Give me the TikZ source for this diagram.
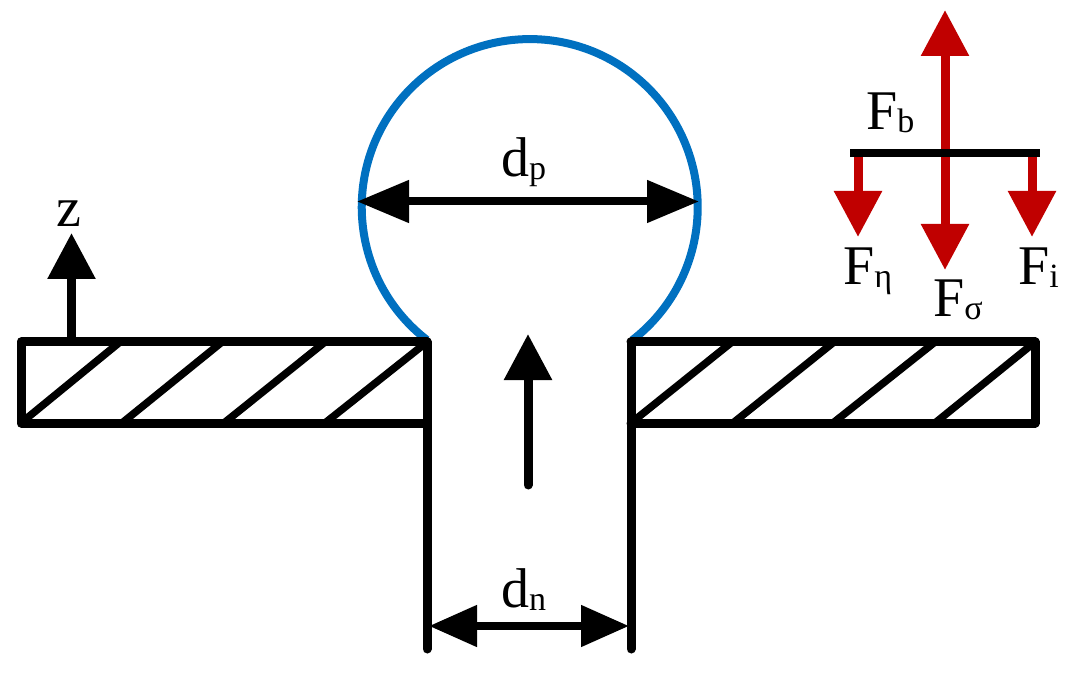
\documentclass[tikz,border=0pt]{standalone}
\usepackage{fontspec}
\setmainfont{Liberation Serif}
\usetikzlibrary{arrows.meta}
\definecolor{dropblue}{HTML}{0070C0}
\definecolor{forcered}{HTML}{C00000}
\newcommand{\sublabel}[2]{#1\raisebox{-3pt}{\fontsize{34}{34}\selectfont #2}}
\begin{document}
\begin{tikzpicture}[x=1pt, y=1pt,
  wall/.style = {draw, line width=9pt, line join=round, line cap=round},
  hatch/.style = {draw, line width=7.5pt},
  main/.style = {anchor=base west, inner sep=0pt, font=\fontsize{56}{56}\selectfont},
  upper/.style = {line width=9pt, -{Triangle[length=46pt, width=46pt]}},
  span/.style = {line width=8pt, {Triangle[length=52pt, width=41pt]}-{Triangle[length=52pt, width=41pt]}},
  force/.style = {upper, draw=forcered, fill=forcered, forcered}]
\useasboundingbox (0,0) rectangle (1071,673);

\coordinate (zfoot) at (71.5,331);
\coordinate (ztip) at (71.5,440);
\coordinate (flowfoot) at (528,188);
\coordinate (flowtip) at (528,339);
\coordinate (pleft) at (357,471.5);
\coordinate (pright) at (699,471.5);
\coordinate (nleft) at (429,47);
\coordinate (nright) at (629,47);
\coordinate (barleft) at (850,519.5);
\coordinate (barright) at (1040,519.5);
\coordinate (bfoot) at (945,519.5);
\coordinate (btip) at (945,663);
\coordinate (stip) at (945,403);
\coordinate (etafoot) at (858,519.5);
\coordinate (etatip) at (858,436);
\coordinate (ifoot) at (1032,519.5);
\coordinate (itip) at (1032,436);

% drop
\draw[dropblue, line width=8pt] (427,333) arc[start angle=232.3, end angle=-52.3, radius=168];

% plates and nozzle
\draw[wall] (427,331) -- (21,331) -- (21,250) -- (427,250);
\draw[wall] (631,331) -- (1035,331) -- (1035,250) -- (631,250);
\draw[wall] (427,331) -- (427,24);
\draw[wall] (631,331) -- (631,24);
\foreach \xa/\xb in {21/120, 122/222, 224/325, 325/427, 631/732, 733/834, 833/935, 935/1035}
  \draw[hatch] (\xa,250) -- (\xb,331);

% arrows
\draw[upper] (zfoot) -- (ztip);
\draw[upper, line cap=round] (flowfoot) -- (flowtip);
\draw[span] (pleft) -- (pright);
\draw[span, {Triangle[length=48pt, width=40pt]}-{Triangle[length=48pt, width=40pt]}] (nleft) -- (nright);

% forces
\draw[force] (bfoot) -- (btip);
\draw[force] (bfoot) -- (stip);
\draw[force] (etafoot) -- (etatip);
\draw[force] (ifoot) -- (itip);
\draw[line width=8pt] (barleft) -- (barright);

% labels
\node[main] (z) at (56,446) {z};
\node[main] (dp) at (501,496) {\sublabel{d}{p}};
\node[main] (dn) at (501,66) {\sublabel{d}{n}};
\node[main] (fb) at (866,543) {\sublabel{F}{b}};
\node[main] (feta) at (843,388) {\sublabel{F}{η}};
\node[main] (fsigma) at (933,356) {\sublabel{F}{σ}};
\node[main] (fi) at (1018,388) {\sublabel{F}{i}};
\end{tikzpicture}
\end{document}
